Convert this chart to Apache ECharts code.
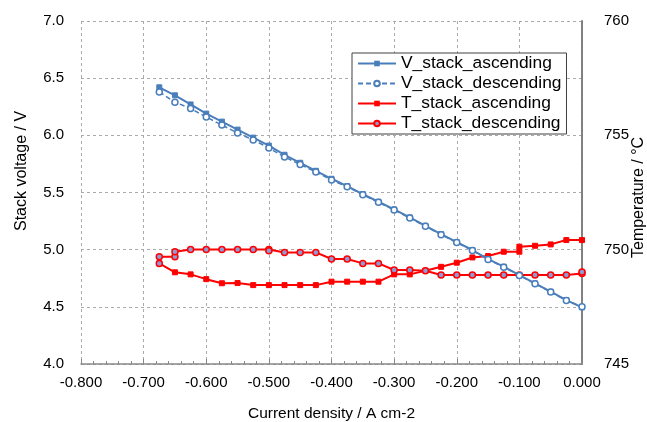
<!DOCTYPE html>
<html><head><meta charset="utf-8">
<script src="https://cdn.jsdelivr.net/npm/echarts@6/dist/echarts.min.js"></script>
<style>html,body{margin:0;padding:0;background:#fff}#c{width:647px;height:422px}</style>
</head><body><div id="c"></div>
<script>
// Current density (A cm-2) for voltage series
const xV = [-0.675,-0.65,-0.625,-0.6,-0.575,-0.55,-0.525,-0.5,-0.475,-0.45,-0.425,-0.4,-0.375,-0.35,-0.325,-0.3,-0.275,-0.25,-0.225,-0.2,-0.175,-0.15,-0.125,-0.1,-0.075,-0.05,-0.025,0];
const vAsc = [6.42,6.35,6.27,6.19,6.12,6.05,5.98,5.91,5.83,5.76,5.69,5.62,5.556,5.486,5.419,5.352,5.282,5.209,5.136,5.066,4.997,4.918,4.851,4.778,4.705,4.632,4.559,4.496];
const vDesc = [6.38,6.29,6.235,6.16,6.09,6.02,5.96,5.89,5.81,5.745,5.68,5.61,5.55,5.48,5.414,5.347,5.277,5.204,5.131,5.062,4.993,4.914,4.847,4.775,4.702,4.629,4.556,4.50];
// Temperature series
const xTAsc = [-0.675,-0.65,-0.625,-0.6,-0.575,-0.55,-0.525,-0.5,-0.475,-0.45,-0.425,-0.4,-0.375,-0.35,-0.325,-0.3,-0.275,-0.25,-0.225,-0.2,-0.175,-0.15,-0.125,-0.1,-0.1,-0.075,-0.05,-0.025,0];
const tAsc = [749.40,749.01,748.92,748.71,748.53,748.54,748.45,748.45,748.45,748.45,748.45,748.60,748.60,748.60,748.60,748.92,748.92,749.08,749.25,749.43,749.66,749.72,749.91,749.91,750.13,750.17,750.23,750.42,750.42];
const xTDesc = [-0.675,-0.675,-0.65,-0.65,-0.625,-0.6,-0.575,-0.55,-0.525,-0.5,-0.5,-0.475,-0.45,-0.425,-0.4,-0.375,-0.35,-0.325,-0.3,-0.275,-0.25,-0.225,-0.2,-0.175,-0.15,-0.125,-0.1,-0.075,-0.05,-0.025,0,0];
const tDesc = [749.40,749.69,749.69,749.91,750.01,750.01,750.01,750.01,750.01,750.01,749.95,749.88,749.88,749.88,749.59,749.59,749.40,749.40,749.11,749.11,749.08,748.89,748.89,748.89,748.89,748.89,748.89,748.89,748.89,748.89,748.96,749.02];
const names = ['V_stack_ascending','V_stack_descending','T_stack_ascending','T_stack_descending'];
const xTitle = 'Current density / A cm-2';
const yTitle = 'Stack voltage / V';
const y2Title = 'Temperature / °C';

const pair = (xs, ys) => xs.map((x, i) => [x, ys[i]]);
const FONT = '"Liberation Sans", Arial, sans-serif';
const BLUE = '#4a7ebb', RED = '#ff0000';

const chart = echarts.init(document.getElementById('c'), null, {renderer: 'canvas'});
chart.setOption({
  animation: false,
  backgroundColor: '#fff',
  textStyle: {fontFamily: FONT},
  grid: {left: 81, right: 65, top: 21, bottom: 58, containLabel: false, outerBoundsMode: 'none'},
  legend: {
    orient: 'vertical', left: 352, top: 53,
    data: names,
    itemWidth: 38, itemHeight: 7, itemGap: 3,
    padding: [2, 5, 2, 5],
    backgroundColor: '#fff', borderColor: '#404040', borderWidth: 1, borderRadius: 0,
    textStyle: {fontFamily: FONT, fontSize: 17.4, color: '#000'}
  },
  xAxis: {
    type: 'value', min: -0.8, max: 0, interval: 0.1,
    name: xTitle, nameLocation: 'middle', nameGap: 42,
    nameTextStyle: {fontFamily: FONT, fontSize: 15.5, color: '#000'},
    axisLine: {show: true, onZero: false, lineStyle: {color: '#888', width: 1.5}},
    axisTick: {show: true, inside: true, length: 5, lineStyle: {color: '#888'}},
    minorTick: {show: true, splitNumber: 5, length: 3, lineStyle: {color: '#888'}},
    axisLabel: {fontFamily: FONT, fontSize: 15, color: '#000', margin: 11, formatter: v => v.toFixed(3)},
    splitLine: {show: true, lineStyle: {color: '#aaa', type: [3, 3], width: 1}}
  },
  yAxis: [{
    type: 'value', min: 4, max: 7, interval: 0.5, position: 'left',
    axisLine: {show: true, lineStyle: {color: '#404040', width: 1.5}},
    axisTick: {show: false},
    axisLabel: {fontFamily: FONT, fontSize: 15, color: '#000', margin: 17, formatter: v => v.toFixed(1)},
    splitLine: {show: true, lineStyle: {color: '#aaa', type: [3, 3], width: 1}}
  }, {
    type: 'value', min: 745, max: 760, interval: 5, position: 'right',
    axisLine: {show: true, lineStyle: {color: '#888', width: 1.5}},
    axisTick: {show: false},
    axisLabel: {fontFamily: FONT, fontSize: 15, color: '#000', margin: 22},
    splitLine: {show: false}
  }],
  graphic: [
    {type: 'text', x: 14, y: 231, rotation: Math.PI / 2, style: {text: yTitle, font: '16px ' + FONT, fill: '#000'}},
    {type: 'text', x: 631, y: 258, rotation: Math.PI / 2, style: {text: y2Title, font: '16px ' + FONT, fill: '#000'}}
  ],
  series: [
    {name: names[2], type: 'line', yAxisIndex: 1, z: 3, data: pair(xTAsc, tAsc),
     symbol: 'rect', symbolSize: 5, showAllSymbol: true,
     lineStyle: {color: RED, width: 2}, itemStyle: {color: RED, borderColor: RED}},
    {name: names[3], type: 'line', yAxisIndex: 1, z: 3, data: pair(xTDesc, tDesc),
     symbol: 'circle', symbolSize: 6, showAllSymbol: true,
     lineStyle: {color: RED, width: 2}, itemStyle: {color: '#8e9bd6', borderColor: RED, borderWidth: 1.5}},
    {name: names[0], type: 'line', yAxisIndex: 0, z: 4, data: pair(xV, vAsc),
     symbol: 'rect', symbolSize: 5, showAllSymbol: true,
     lineStyle: {color: BLUE, width: 2}, itemStyle: {color: BLUE, borderColor: BLUE}},
    {name: names[1], type: 'line', yAxisIndex: 0, z: 4, data: pair(xV, vDesc),
     symbol: 'circle', symbolSize: 6, showAllSymbol: true,
     lineStyle: {color: BLUE, width: 1.5, type: [5, 3]}, itemStyle: {color: '#fff', borderColor: BLUE, borderWidth: 1.5}}
  ]
});
</script>
</body></html>
